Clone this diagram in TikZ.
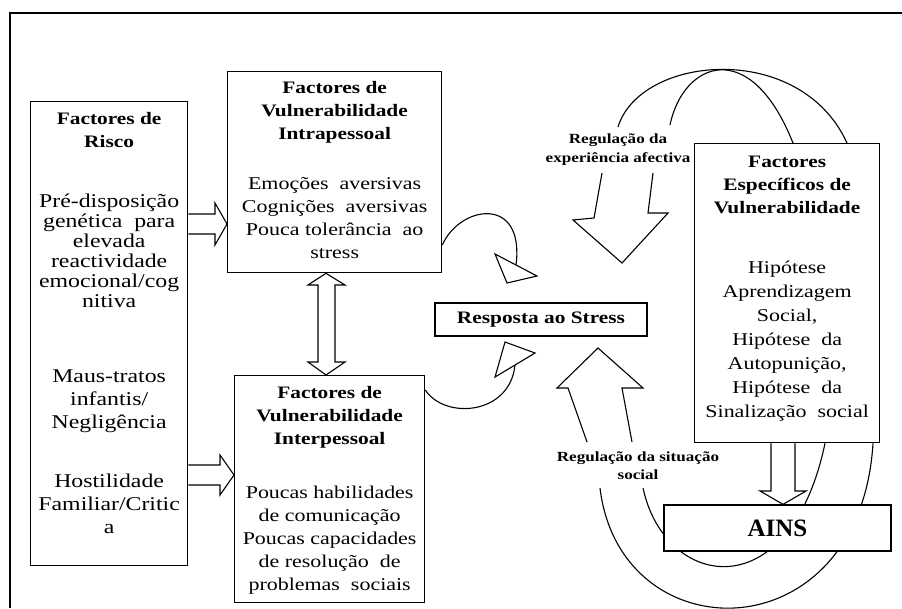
\documentclass[tikz,border=0pt]{standalone}
\usepackage{fontspec}
\setmainfont{Liberation Serif}[FakeStretch=1.22]
\newfontfamily\ainsfont{Liberation Serif}
\usetikzlibrary{calc}

\newcommand{\boxbody}[4]{\parbox[c][#2][t]{#1}{\centering\vspace*{#3}#4}}
\newcommand{\titlefont}{\fontsize{17.5}{23}\selectfont\bfseries}
\newcommand{\bodyfont}{\fontsize{18}{23}\selectfont}

\begin{document}
\begin{tikzpicture}[x=1pt,y=-1pt,
  factorbox/.style={draw,line width=1.3pt,fill=white,inner sep=0pt,anchor=north west},
  hollow/.style={draw,line width=1.1pt,fill=white,line join=miter},
  curve/.style={line width=1.1pt},
  reglabel/.style={font=\fontsize{14}{19}\selectfont\bfseries,align=center,inner sep=0pt}]
\useasboundingbox (0,0) rectangle (902,608);

% outer frame
\draw[line width=2.7pt] (10,608) -- (10,13) -- (902,13);

% factor boxes
\node[factorbox] (risco) at (30,101) {\boxbody{157pt}{464pt}{11pt}{%
  {\titlefont Factores de\\ Risco\par}
  \vspace{40pt}
  {\fontsize{19.5}{20}\selectfont Pré-disposição\\ genética~ para\\ elevada\\ reactividade\\ emocional/cog\\ nitiva\par}
  \vspace{52pt}
  {\fontsize{19.5}{23}\selectfont Maus-tratos\\ infantis/\\ Negligência\par}
  \vspace{36pt}
  {\fontsize{19.5}{23}\selectfont Hostilidade\\ Familiar/Critic\\ a\par}}};
\node[factorbox] (intra) at (227,71) {\boxbody{214pt}{201pt}{10pt}{%
  {\titlefont Factores de\\ Vulnerabilidade\\ Intrapessoal\par}
  \vspace{27pt}
  {\bodyfont Emoções~ aversivas\\ Cognições~ aversivas\\ Pouca tolerância~ ao\\ stress\par}}};
\node[factorbox] (inter) at (234,375) {\boxbody{190pt}{227pt}{11pt}{%
  {\titlefont Factores de\\ Vulnerabilidade\\ Interpessoal\par}
  \vspace{31pt}
  {\bodyfont Poucas habilidades\\ de comunicação\\ Poucas capacidades\\ de resolução~ de\\ problemas~ sociais\par}}};
\node[factorbox] (spec) at (694,143) {\boxbody{185pt}{299pt}{12pt}{%
  {\titlefont Factores\\ Específicos de\\ Vulnerabilidade\par}
  \vspace{36pt}
  {\fontsize{18}{24}\selectfont Hipótese\\ Aprendizagem\\ Social,\\ Hipótese~ da\\ Autopunição,\\ Hipótese~ da\\ Sinalização~ social\par}}};
\node[factorbox,anchor=center,minimum width=212pt,minimum height=33pt,font=\titlefont] (resp) at (541,319.5) {Resposta ao Stress};

% risk -> vulnerability
\draw[hollow] (risco.east |- 0,214) -- (215,214) -- (215,203) -- (intra.west |- 0,224)
  -- (215,245) -- (215,234) -- (risco.east |- 0,234);
\draw[hollow] (risco.east |- 0,465) -- (220,465) -- (220,455) -- (inter.west |- 0,475)
  -- (220,495) -- (220,485) -- (risco.east |- 0,485);
\draw[hollow] (intra.south -| 326,0) -- (345,285) -- (335,285) -- (335,362) -- (345,362)
  -- (inter.north -| 326,0) -- (308,362) -- (318,362) -- (318,285) -- (308,285) -- cycle;

% curly arrows towards the stress response
\draw[curve] (intra.east |- 0,245) .. controls (460,205) and (525,195) .. (516,265);
\draw[hollow] (495,254) -- (537,276) -- (507,283) -- cycle;
\draw[curve] (inter.east |- 0,390) .. controls (445,420) and (510,415) .. (515,365);
\draw[hollow] (505,342) -- (535,353) -- (495,377) -- cycle;

% regulation of affective experience
\node[reglabel] (regexp) at (618,150) {Regulação da\\ experiência afectiva};
\draw[hollow,fill=none] (602,173) -- (594,218) -- (573,220) -- (622,263) -- (668,213)
  -- (648,213) -- (653,173);
\draw[curve] (618,127) .. controls (640,55) and (800,40) .. (spec.north -| 847,0);
\draw[curve] (670,125) .. controls (683,62) and (750,35) .. (spec.north -| 793,0);

% regulation of social situation
\node[reglabel,font=\fontsize{14}{18}\selectfont\bfseries] (regsoc) at (638,466) {Regulação da situação\\ social};
\draw[hollow,fill=none] (587,442) -- (568,388) -- (557,388) -- (598,348) -- (643,388)
  -- (622,388) -- (632,442);
\draw[curve] (600,488) .. controls (620,655) and (860,655) .. (spec.south -| 873,0);
\draw[curve] (643,488) .. controls (665,590) and (790,610) .. (spec.south -| 825,0);

% AINS
\node[factorbox,anchor=center,minimum width=227pt,minimum height=46pt,
  font=\ainsfont\bfseries\fontsize{25}{30}\selectfont] (ains) at (777.5,528) {AINS};
\draw[hollow] (spec.south -| 771,0) -- (771,491) -- (760,491) -- (ains.north -| 783,0)
  -- (806,491) -- (795,491) -- (spec.south -| 795,0);
\end{tikzpicture}
\end{document}
